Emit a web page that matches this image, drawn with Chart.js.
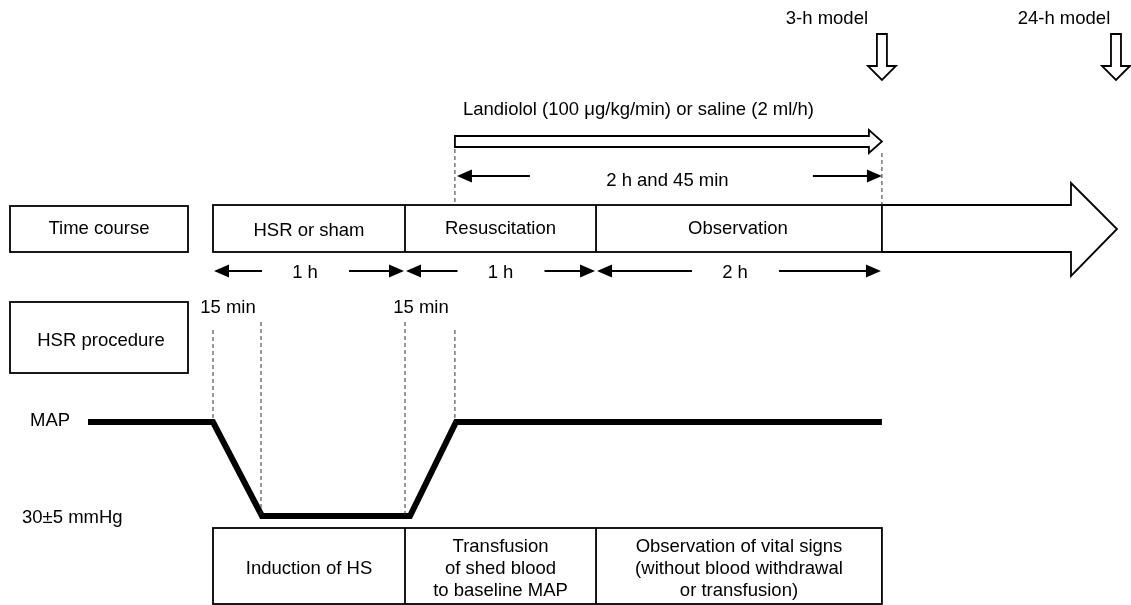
<!DOCTYPE html>
<html>
<head>
<meta charset="utf-8">
<script src="https://cdn.jsdelivr.net/npm/chart.js@4.4.0/dist/chart.umd.min.js"></script>
<style>
  body { margin: 0; background: #fff; }
  #protocol { display: block; }
</style>
</head>
<body>
<canvas id="protocol" width="1131" height="605"></canvas>
<script>
// --- data (x values are hours on the drawn time line; the observation phase is drawn compressed)
const phaseLabels = ['HSR or sham', 'Resuscitation', 'Observation'];
const phaseDurations = ['1 h', '1 h', '2 h'];
const phaseBounds = [0, 1, 1.995, 3.484];
const procedureLabels = [
    ['Induction of HS'],
    ['Transfusion', 'of shed blood', 'to baseline MAP'],
    ['Observation of vital signs', '(without blood withdrawal', 'or transfusion)']
];
const mapHours = [-0.651, 0, 0.255, 1.026, 1.266, 3.484];
const mapValues = [80, 80, 30, 30, 80, 80];
const mapLabels = ['MAP', '30\u00b15 mmHg'];
const modelLabels = ['3-h model', '24-h model'];
const modelHours = [3.484, 4.703];
const infusionHours = [1.26, 3.484];
const infusionLabel = 'Landiolol (100 \u03bcg/kg/min) or saline (2 ml/h)';
const infusionDuration = '2 h and 45 min';
const stepLabel = '15 min';
const stepHours = [0, 0.25, 1, 1.26];

// --- layout
const FONT = '18.5px "Liberation Sans", Arial, sans-serif';
const X0 = 213, PX_PER_H = 192;
const Y_BASE = 422, Y_LOW = 516;
const pxPerMmHg = (Y_LOW - Y_BASE) / (mapValues[0] - mapValues[2]);

function line(ctx, x1, y1, x2, y2) {
    ctx.beginPath();
    ctx.moveTo(x1, y1);
    ctx.lineTo(x2, y2);
    ctx.stroke();
}

// solid-headed arrow, head at (x2, y)
function solidArrow(ctx, x1, x2, y) {
    const dir = x2 > x1 ? 1 : -1;
    ctx.lineWidth = 2;
    line(ctx, x1, y, x2 - dir * 12, y);
    ctx.beginPath();
    ctx.moveTo(x2, y);
    ctx.lineTo(x2 - dir * 15, y - 6.5);
    ctx.lineTo(x2 - dir * 15, y + 6.5);
    ctx.closePath();
    ctx.fill();
}

function hollowDown(ctx, x, yTop, yTip) {
    ctx.beginPath();
    ctx.moveTo(x - 5, yTop);
    ctx.lineTo(x + 5, yTop);
    ctx.lineTo(x + 5, yTip - 14);
    ctx.lineTo(x + 14, yTip - 14);
    ctx.lineTo(x, yTip);
    ctx.lineTo(x - 14, yTip - 14);
    ctx.lineTo(x - 5, yTip - 14);
    ctx.closePath();
    ctx.stroke();
}

function text(ctx, s, x, y, align) {
    ctx.textAlign = align || 'center';
    ctx.fillText(s, x, y);
}

const diagram = {
    id: 'diagram',
    afterDatasetsDraw(chart) {
        const ctx = chart.ctx;
        const xs = v => chart.scales.x.getPixelForValue(v);
        const ys = v => chart.scales.y.getPixelForValue(v);
        ctx.save();
        ctx.strokeStyle = '#000';
        ctx.fillStyle = '#000';
        ctx.font = FONT;
        ctx.textBaseline = 'middle';
        ctx.lineJoin = 'miter';

        const xb = phaseBounds.map(xs);
        const xEnd = xb[3];

        // model arrows
        ctx.lineWidth = 1.8;
        modelLabels.forEach((lab, i) => {
            const x = xs(modelHours[i]);
            text(ctx, lab, x - (i === 0 ? 55 : 52), 19);
            hollowDown(ctx, x, 34, 80);
        });

        // infusion arrow
        const xi0 = xs(infusionHours[0]), xi1 = xs(infusionHours[1]);
        text(ctx, infusionLabel, xi0 + 8, 110, 'left');
        ctx.lineWidth = 1.8;
        ctx.beginPath();
        ctx.moveTo(xi0, 136);
        ctx.lineTo(xi1 - 13, 136);
        ctx.lineTo(xi1 - 13, 130);
        ctx.lineTo(xi1, 141.5);
        ctx.lineTo(xi1 - 13, 153);
        ctx.lineTo(xi1 - 13, 147);
        ctx.lineTo(xi0, 147);
        ctx.closePath();
        ctx.stroke();
        text(ctx, infusionDuration, (xi0 + xi1) / 2 - 1, 181);
        solidArrow(ctx, xi0 + 75, xi0 + 2, 176);
        solidArrow(ctx, xi1 - 69, xi1, 176);

        // dashed guides
        ctx.setLineDash([4, 3]);
        ctx.lineWidth = 1;
        ctx.strokeStyle = '#333';
        line(ctx, xi0, 149, xi0, 205);
        line(ctx, xi1, 153, xi1, 205);
        const stepX = stepHours.map(xs);
        line(ctx, stepX[0], 330, stepX[0], Y_BASE);
        line(ctx, stepX[1], 322, stepX[1], Y_LOW);
        line(ctx, stepX[2], 322, stepX[2], Y_LOW);
        line(ctx, stepX[3], 330, stepX[3], Y_BASE);
        ctx.setLineDash([]);
        ctx.strokeStyle = '#000';

        // time course row
        ctx.lineWidth = 1.8;
        ctx.strokeRect(10, 206, 178, 46);
        text(ctx, 'Time course', 99, 229);
        ctx.strokeRect(xb[0], 205, xEnd - xb[0], 47);
        line(ctx, xb[1], 205, xb[1], 252);
        line(ctx, xb[2], 205, xb[2], 252);
        // big arrow
        ctx.beginPath();
        ctx.moveTo(xEnd, 205);
        ctx.lineTo(1071, 205);
        ctx.lineTo(1071, 183);
        ctx.lineTo(1117, 229);
        ctx.lineTo(1071, 276);
        ctx.lineTo(1071, 252);
        ctx.lineTo(xEnd, 252);
        ctx.stroke();
        phaseLabels.forEach((lab, i) => {
            const cx = (xb[i] + xb[i + 1]) / 2 + (i === 2 ? -1 : 0);
            text(ctx, lab, cx, i === 0 ? 231 : 229);
            const dc = (xb[i] + xb[i + 1]) / 2 + (i === 1 ? 0 : -4);
            text(ctx, phaseDurations[i], dc, 273);
            solidArrow(ctx, dc - 43, xb[i] + 1, 271);
            solidArrow(ctx, dc + 44, xb[i + 1] - 1, 271);
        });

        // HSR procedure
        ctx.lineWidth = 1.8;
        ctx.strokeRect(10, 302, 178, 71);
        text(ctx, 'HSR procedure', 101, 341);
        text(ctx, stepLabel, (stepX[0] + stepX[1]) / 2 - 9, 308);
        text(ctx, stepLabel, (stepX[2] + stepX[3]) / 2 - 9, 308);

        // MAP labels
        text(ctx, mapLabels[0], 30, ys(mapValues[0]) - 1, 'left');
        text(ctx, mapLabels[1], 22, ys(mapValues[2]) + 2, 'left');

        // bottom boxes
        ctx.lineWidth = 1.8;
        ctx.strokeRect(xb[0], 528, xEnd - xb[0], 76);
        line(ctx, xb[1], 528, xb[1], 604);
        line(ctx, xb[2], 528, xb[2], 604);
        procedureLabels.forEach((lines, i) => {
            const cx = (xb[i] + xb[i + 1]) / 2;
            const y0 = 569 - (lines.length - 1) * 11;
            lines.forEach((s, j) => text(ctx, s, cx, y0 + j * 22));
        });
        ctx.restore();
    }
};

const canvas = document.getElementById('protocol');
new Chart(canvas, {
    type: 'line',
    data: {
        datasets: [{
            label: 'MAP',
            data: mapHours.map((h, i) => ({ x: h, y: mapValues[i] })),
            borderColor: '#000',
            borderWidth: 6,
            borderJoinStyle: 'miter',
            borderCapStyle: 'butt',
            pointRadius: 0,
            tension: 0,
            fill: false
        }]
    },
    options: {
        responsive: false,
        animation: false,
        layout: { padding: 0 },
        plugins: {
            legend: { display: false },
            tooltip: { enabled: false }
        },
        scales: {
            x: {
                type: 'linear',
                display: false,
                min: -X0 / PX_PER_H,
                max: (1131 - X0) / PX_PER_H
            },
            y: {
                type: 'linear',
                display: false,
                min: mapValues[2] - (605 - Y_LOW) / pxPerMmHg,
                max: mapValues[0] + Y_BASE / pxPerMmHg
            }
        }
    },
    plugins: [diagram]
});
</script>
</body>
</html>
